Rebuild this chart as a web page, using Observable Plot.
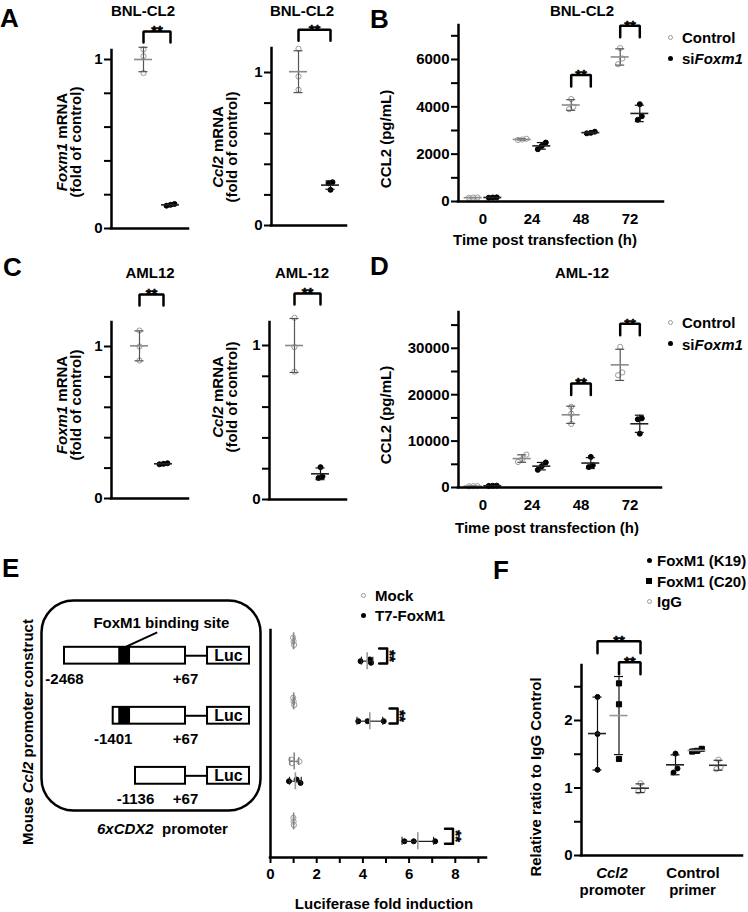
<!DOCTYPE html>
<html><head><meta charset="utf-8">
<script src="https://cdn.jsdelivr.net/npm/d3@7"></script>
<script src="https://cdn.jsdelivr.net/npm/@observablehq/plot@0.6"></script>
<style>
html,body{margin:0;padding:0;background:#fff;}
#fig{position:relative;width:748px;height:912px;overflow:hidden;font-family:"Liberation Sans",Arial,Helvetica,sans-serif;font-weight:bold;color:#000;}
#fig svg{position:absolute;left:0;top:0;}
.lbl{position:absolute;white-space:nowrap;}
.mk{position:absolute;box-sizing:border-box;}
</style></head><body><div id="fig"></div>
<script>
// ================= DATA =================
// A: BNL-CL2 qPCR, fold of control (three replicates each)
const bnlFoxm1Control = [1.06, 1.02, 0.92];
const bnlFoxm1Si = [0.145, 0.14, 0.135];
const bnlCcl2Control = [1.155, 0.974, 0.887];
const bnlCcl2Si = [0.283, 0.276, 0.233];
// C: AML12 qPCR
const amlFoxm1Control = [1.105, 1.0, 0.908];
const amlFoxm1Si = [0.232, 0.228, 0.225];
const amlCcl2Control = [1.18, 0.99, 0.83];
const amlCcl2Si = [0.21, 0.15, 0.14];
const qTicks = [0, 0.2, 0.4, 0.6, 0.8, 1];
const qTickLabels = [0, 1];
const qSigTops = [1.166, 1.279, 1.342, 1.338]; // ** bracket heights: A left, A right, C left, C right

// B / D: secreted CCL2 (pg/mL) by time post transfection
const timepoints = [0, 24, 48, 72];
const bnlElisaControl = [[160, 170, 165], [2650, 2620, 2600], [4330, 4000, 3900], [6480, 6040, 5800]];
const bnlElisaSi = [[170, 160, 175], [2490, 2350, 2210], [2950, 2900, 2880], [4110, 3600, 3450]];
const amlElisaControl = [[300, 250, 280], [7100, 6100, 5500], [17400, 15900, 13700], [30300, 24800, 24200]];
const amlElisaSi = [[400, 350, 380], [5400, 4600, 3800], [6600, 4800, 4400], [14900, 14700, 11600]];
const bnlTicks = [0, 1000, 2000, 3000, 4000, 5000, 6000, 7000];
const bnlTickLabels = [0, 2000, 4000, 6000];
const amlTicks = [0, 5000, 10000, 15000, 20000, 25000, 30000, 35000];
const amlTickLabels = [0, 10000, 20000, 30000];
const bnlSig = [{t: 2, top: 5340}, {t: 3, top: 7423}];
const amlSig = [{t: 2, top: 22400}, {t: 3, top: 35300}];

// E: luciferase fold induction per promoter construct
const constructs = ["-2468", "-1401", "-1136", "6xCDX2"];
const constructStart = [-2468, -1401, -1136];
const constructEnd = 67;
const bindingSite = [-1335, -1195];
const lucMock = [[1.0, 1.02, 0.98], [1.0, 0.98, 1.03], [0.9, 0.93, 1.25], [1.0, 0.99, 1.01]];
const lucT7 = [[3.9, 4.3, 4.35], [3.8, 4.2, 4.9], [0.8, 1.13, 1.3], [5.8, 6.2, 7.13]];
const lucTicks = [0, 1, 2, 3, 4, 5, 6, 7, 8, 9];
const lucTickLabels = [0, 2, 4, 6, 8];
const lucSig = [{row: 0, x: 5.05}, {row: 1, x: 5.5}, {row: 3, x: 7.9}];

// F: ChIP, relative ratio to IgG control
const chipTargets = ["Ccl2 promoter", "Control primer"];
const chipAntibodies = ["FoxM1 (K19)", "FoxM1 (C20)", "IgG"];
const chipK19 = [[2.35, 1.8, 1.27], [1.51, 1.29, 1.23]];
const chipC20 = [[2.55, 2.24, 1.43], [1.58, 1.55, 1.54]];
const chipIgG = [[1.07, 0.97, 0.95], [1.42, 1.31, 1.28]];
const chipTicks = [0, 0.5, 1, 1.5, 2, 2.5];
const chipTickLabels = [0, 1, 2];
const chipSig = [{a: [0, 0], b: [0, 2], top: 3.175}, {a: [0, 1], b: [0, 2], top: 2.864}];

// ================= STYLE / HELPERS =================
const W = 748, H = 912;
const FONT = '"Liberation Sans", Arial, Helvetica, sans-serif';
const fig = document.getElementById("fig");
const T = {fontSize: 15, fontWeight: "bold", fontFamily: FONT, fill: "#000"};
const STAR = {...T, stroke: "#000", strokeWidth: 0.5};
const AX = {stroke: "black", strokeWidth: 2.5, strokeLinecap: "square"};
const OPEN = {symbol: "circle", r: 2.6, fill: "white", stroke: "#9a9a9a", err: "#555", mean: "#8a8a8a"};
const FILLED = {symbol: "circle", r: 2.5, fill: "black", stroke: "black", err: "#111", mean: "#222"};
const SQUARE = {symbol: "square", r: 2.9, fill: "black", stroke: "black", err: "#111", mean: "#999"};
const IGG = {symbol: "circle", r: 2.6, fill: "white", stroke: "#9a9a9a", err: "#333", mean: "#333"};
const T7S = {symbol: "circle", r: 2.5, fill: "black", stroke: "black", err: "#222", mean: "#999"};
const MOCKS = {symbol: "circle", r: 2.6, fill: "white", stroke: "#9a9a9a", err: "#777", mean: "#888"};

function addPlot(frame, x, y, marks) {
  const svg = Plot.plot({
    width: W, height: H,
    marginLeft: frame.left, marginRight: W - frame.right,
    marginTop: frame.top, marginBottom: H - frame.bottom,
    x: Object.assign({type: "linear", axis: null}, x),
    y: Object.assign({type: "linear", axis: null}, y),
    style: {background: "transparent", overflow: "visible", fontFamily: FONT},
    marks
  });
  fig.appendChild(svg);
}

// cluster points closer than `thr` px and spread them side by side with `step` px
function spread(pos, thr, step) {
  const idx = d3.range(pos.length).sort((a, b) => pos[a] - pos[b]);
  const off = new Array(pos.length).fill(0);
  let cl = [idx[0]];
  const flush = () => { const n = cl.length; cl.forEach((k, j) => off[k] = (j - (n - 1) / 2) * step); };
  for (let j = 1; j < idx.length; j++) {
    if (pos[idx[j]] - pos[idx[j - 1]] < thr) cl.push(idx[j]); else { flush(); cl = [idx[j]]; }
  }
  flush();
  return off;
}

// vertical scatter with mean ± SD
function vScatter(groups, ux, uy) {
  const marks = [];
  for (const g of groups) {
    const st = g.style;
    const m = d3.mean(g.values), sd = d3.deviation(g.values);
    const off = spread(g.values.map(v => v / uy), 2 * st.r + 0.6, 2 * st.r - 1);
    const pts = g.values.map((v, i) => ({x: g.x + off[i] * ux, y: v}));
    const s = [{x: g.x, m, lo: m - sd, hi: m + sd}];
    marks.push(Plot.dot(pts, {x: "x", y: "y", r: st.r, symbol: st.symbol, fill: st.fill, stroke: st.stroke, strokeWidth: 1}));
    marks.push(Plot.ruleX(s, {x: "x", y1: "lo", y2: "hi", stroke: st.err, strokeWidth: 1.2}));
    for (const k of ["lo", "hi"]) marks.push(Plot.ruleY(s, {y: k, x1: d => d.x - 4.5 * ux, x2: d => d.x + 4.5 * ux, stroke: st.err, strokeWidth: 1.2}));
    marks.push(Plot.ruleY(s, {y: "m", x1: d => d.x - 9 * ux, x2: d => d.x + 9 * ux, stroke: st.mean, strokeWidth: 1.6}));
  }
  return marks;
}

// horizontal scatter (panel E)
function hScatter(rows, ux, uy) {
  const marks = [];
  for (const g of rows) {
    const st = g.style;
    const m = d3.mean(g.values), sd = d3.deviation(g.values);
    const off = spread(g.values.map(v => v / ux), 2 * st.r + 0.6, 2 * st.r - 1.6);
    const pts = g.values.map((v, i) => ({x: v, y: g.y + off[i] * uy}));
    const s = [{y: g.y, m, lo: m - sd, hi: m + sd}];
    marks.push(Plot.dot(pts, {x: "x", y: "y", r: st.r, symbol: st.symbol, fill: st.fill, stroke: st.stroke, strokeWidth: 1}));
    marks.push(Plot.ruleY(s, {y: "y", x1: "lo", x2: "hi", stroke: st.err, strokeWidth: 1.2}));
    for (const k of ["lo", "hi"]) marks.push(Plot.ruleX(s, {x: k, y1: d => d.y - 4 * uy, y2: d => d.y + 4 * uy, stroke: st.err, strokeWidth: 1.2}));
    marks.push(Plot.ruleX(s, {x: "m", y1: d => d.y - 8.5 * uy, y2: d => d.y + 8.5 * uy, stroke: st.mean, strokeWidth: 1.6}));
  }
  return marks;
}

function yAxis(xMin, ux, ticks, labels) {
  return [
    Plot.ruleY(ticks, {y: d => d, x1: xMin - 7 * ux, x2: xMin, stroke: "black", strokeWidth: 2}),
    Plot.text(labels, {x: xMin, y: d => d, text: d => String(d), textAnchor: "end", dx: -9, ...T})
  ];
}

function brackets(br, arm) {
  const path = br.flatMap((b, i) => [
    {id: i, x: b.a, y: b.top - arm}, {id: i, x: b.a, y: b.top},
    {id: i, x: b.b, y: b.top}, {id: i, x: b.b, y: b.top - arm}]);
  return [
    Plot.line(path, {x: "x", y: "y", z: "id", stroke: "black", strokeWidth: 2.5, strokeLinejoin: "miter"}),
    Plot.text(br, {x: b => (b.a + b.b) / 2, y: "top", text: () => "**", ...STAR})
  ];
}

function lbl(html, x, y, o = {}) {
  const d = document.createElement("div");
  d.className = "lbl";
  d.innerHTML = html;
  const size = o.size || 15;
  d.style.fontSize = size + "px";
  d.style.lineHeight = (o.lh || size) + "px";
  d.style.left = x + "px";
  d.style.top = y + "px";
  if (o.center) d.style.textAlign = "center";
  const tx = o.anchor === "start" ? "0" : "-50%";
  d.style.transform = `translate(${tx},-50%)` + (o.rotate ? ` rotate(${o.rotate}deg)` : "");
  fig.appendChild(d);
}
function marker(kind, x, y) {
  const d = document.createElement("div");
  d.className = "mk";
  const s = kind === "square" ? 5.5 : 5;
  d.style.width = s + "px"; d.style.height = s + "px";
  d.style.left = (x - s / 2) + "px"; d.style.top = (y - s / 2) + "px";
  if (kind === "open") { d.style.border = "1px solid #9a9a9a"; d.style.borderRadius = "50%"; }
  else if (kind === "dot") { d.style.background = "#000"; d.style.borderRadius = "50%"; }
  else d.style.background = "#000";
  fig.appendChild(d);
}

// ================= PANELS A & C =================
function qpcrPanel(p, ctrl, si, sigTop) {
  const step = p.siPx - p.ctrlPx;
  const ux = 1 / step, uy = 1 / p.pxPer;
  const xDomain = [(p.x0 - p.ctrlPx) / step, (p.x1 - p.ctrlPx) / step];
  const yMax = (p.yBottom - p.yTop) / p.pxPer;
  const marks = [
    ...yAxis(xDomain[0], ux, qTicks, qTickLabels),
    ...vScatter([{x: 0, values: ctrl, style: OPEN}, {x: 1, values: si, style: FILLED}], ux, uy),
    ...brackets([{a: 0, b: 1, top: sigTop}], 11 * uy),
    Plot.ruleX([xDomain[0]], AX), Plot.ruleY([0], AX)
  ];
  addPlot({left: p.x0, right: p.x1, top: p.yTop, bottom: p.yBottom}, {domain: xDomain}, {domain: [0, yMax]}, marks);
}
qpcrPanel({x0: 111, x1: 188, ctrlPx: 143, siPx: 170, yBottom: 228, yTop: 50, pxPer: 169}, bnlFoxm1Control, bnlFoxm1Si, qSigTops[0]);
qpcrPanel({x0: 271, x1: 346, ctrlPx: 298, siPx: 330, yBottom: 225, yTop: 48, pxPer: 153}, bnlCcl2Control, bnlCcl2Si, qSigTops[1]);
qpcrPanel({x0: 111, x1: 188, ctrlPx: 139, siPx: 163, yBottom: 498, yTop: 322, pxPer: 152}, amlFoxm1Control, amlFoxm1Si, qSigTops[2]);
qpcrPanel({x0: 269, x1: 346, ctrlPx: 294, siPx: 320, yBottom: 499, yTop: 322, pxPer: 154}, amlCcl2Control, amlCcl2Si, qSigTops[3]);

// ================= PANELS B & D =================
function elisaPanel(p, ctrl, si, ticks, labels, sig) {
  const step = 49, c0 = 482.5, off = 0.2;
  const ux = 1 / step, uy = 1 / p.pxPer;
  const xDomain = [(p.x0 - c0) / step, (p.x1 - c0) / step];
  const yMax = (p.yBottom - p.yTop) / p.pxPer;
  const groups = [];
  timepoints.forEach((t, i) => {
    groups.push({x: i - off, values: ctrl[i], style: OPEN});
    groups.push({x: i + off, values: si[i], style: FILLED});
  });
  const marks = [
    ...yAxis(xDomain[0], ux, ticks, labels),
    Plot.text(timepoints, {x: (d, i) => i, y: 0, dy: 12, lineAnchor: "top", text: d => String(d), ...T}),
    ...vScatter(groups, ux, uy),
    ...brackets(sig.map(s => ({a: s.t - off, b: s.t + off, top: s.top})), 11.5 * uy),
    Plot.ruleX([xDomain[0]], AX), Plot.ruleY([0], AX)
  ];
  addPlot({left: p.x0, right: p.x1, top: p.yTop, bottom: p.yBottom}, {domain: xDomain}, {domain: [0, yMax]}, marks);
}
elisaPanel({x0: 458, x1: 663, yBottom: 201, yTop: 25, pxPer: 0.02367}, bnlElisaControl, bnlElisaSi, bnlTicks, bnlTickLabels, bnlSig);
elisaPanel({x0: 458, x1: 661, yBottom: 487, yTop: 312, pxPer: 0.00464}, amlElisaControl, amlElisaSi, amlTicks, amlTickLabels, amlSig);

// ================= PANEL E (chart) =================
const E_Y = {domain: [-0.18, 3.6], range: [630, 857]};
{
  const x0 = 270, x1 = 486, yT = 630, yB = 857, pxX = 23.1, pxY = 227 / 3.78;
  const ux = 1 / pxX, uy = 1 / pxY;
  const xDomain = [0, (x1 - x0) / pxX];
  const rows = [];
  constructs.forEach((c, r) => {
    rows.push({y: r, values: lucMock[r], style: MOCKS});
    rows.push({y: r + 0.33, values: lucT7[r], style: T7S});
  });
  const ePath = lucSig.flatMap((b, i) => [
    {id: i, x: b.x - 8 * ux, y: b.row + 0.12}, {id: i, x: b.x, y: b.row + 0.12},
    {id: i, x: b.x, y: b.row + 0.37}, {id: i, x: b.x - 8 * ux, y: b.row + 0.37}]);
  const marks = [
    Plot.ruleX(lucTicks, {x: d => d, y1: 3.6, y2: 3.6 + 6 * uy, stroke: "black", strokeWidth: 2}),
    Plot.text(lucTickLabels, {x: d => d, y: 3.6, dy: 11, lineAnchor: "top", text: d => String(d), ...T}),
    ...hScatter(rows, ux, uy),
    Plot.line(ePath, {x: "x", y: "y", z: "id", stroke: "black", strokeWidth: 2.5}),
    Plot.text(lucSig, {x: "x", y: d => d.row + 0.245, rotate: 90, dx: 2.5, text: () => "**", ...STAR}),
    Plot.ruleX([0], AX), Plot.ruleY([3.6], AX)
  ];
  addPlot({left: x0, right: x1, top: yT, bottom: yB}, {domain: xDomain}, E_Y, marks);
}

// ================= PANEL E (promoter construct schematic) =================
{
  const rowsS = constructStart.map((s, r) => ({row: r, start: s}));
  const yc = r => r + 0.24, bh = 0.14;
  const lucStart = constructEnd + 530, lucEnd = lucStart + 1010;
  const siteMid = (bindingSite[0] + bindingSite[1]) / 2;
  const marks = [
    Plot.frame({rx: 32, ry: 32, stroke: "black", strokeWidth: 2.5}),
    Plot.ruleY(rowsS, {y: d => yc(d.row), x1: constructEnd, x2: lucStart, stroke: "black", strokeWidth: 2}),
    Plot.rect(rowsS, {x1: "start", x2: constructEnd, y1: d => yc(d.row) - bh, y2: d => yc(d.row) + bh, fill: "white", stroke: "black", strokeWidth: 2}),
    Plot.rect(rowsS.filter(d => d.start <= bindingSite[0]), {x1: bindingSite[0], x2: bindingSite[1], y1: d => yc(d.row) - bh, y2: d => yc(d.row) + bh, fill: "black"}),
    Plot.rect(rowsS, {x1: lucStart, x2: lucEnd, y1: d => yc(d.row) - bh, y2: d => yc(d.row) + bh, fill: "white", stroke: "black", strokeWidth: 2}),
    Plot.text(rowsS, {x: (lucStart + lucEnd) / 2, y: d => yc(d.row), text: () => "Luc", ...T, fontSize: 16}),
    Plot.text(rowsS, {x: "start", y: d => d.row + 0.63, text: d => String(d.start), ...T}),
    Plot.text(rowsS, {x: constructEnd, y: d => d.row + 0.63, text: () => "+" + constructEnd, ...T}),
    Plot.link([0], {x1: siteMid, y1: yc(0) - bh, x2: -614, y2: -0.15, stroke: "black", strokeWidth: 2}),
    Plot.text([0], {x: -515, y: -0.30, text: () => "FoxM1 binding site", ...T})
  ];
  // schematic (not-to-scale) bp axis: piecewise linear
  addPlot({left: 41, right: 260, top: 600, bottom: 810},
    {domain: [-2468, -1401, -1136, constructEnd], range: [64, 112.7, 135, 185]}, E_Y, marks);
}

// ================= PANEL F =================
{
  const x0 = 581, x1 = 742, yB = 855, yT = 665, pxX = 21.5, pxY = 67.5, origin = 597, gap = 78 / 21.5;
  const ux = 1 / pxX, uy = 1 / pxY;
  const xOf = (g, s) => g * gap + s;
  const xDomain = [(x0 - origin) / pxX, (x1 - origin) / pxX];
  const styles = [FILLED, SQUARE, IGG];
  const sets = [chipK19, chipC20, chipIgG];
  const groups = [];
  chipTargets.forEach((t, g) => chipAntibodies.forEach((a, s) => groups.push({x: xOf(g, s), values: sets[s][g], style: styles[s]})));
  const marks = [
    ...yAxis(xDomain[0], ux, chipTicks, chipTickLabels),
    ...vScatter(groups, ux, uy),
    ...brackets(chipSig.map(b => ({a: xOf(...b.a), b: xOf(...b.b), top: b.top})), 12 * uy),
    Plot.ruleX([xDomain[0]], AX), Plot.ruleY([0], AX)
  ];
  addPlot({left: x0, right: x1, top: yT, bottom: yB}, {domain: xDomain}, {domain: [0, (yB - yT) / pxY]}, marks);
}

// ================= TEXT: letters, titles, axis labels, legends =================
[["A", 0, 18], ["B", 370, 19], ["C", 3, 267], ["D", 370, 266], ["E", 2, 568], ["F", 493, 570]]
  .forEach(([t, x, y]) => lbl(t, x, y, {size: 26, anchor: "start"}));
lbl("BNL-CL2", 143, 10); lbl("BNL-CL2", 302, 10); lbl("BNL-CL2", 582, 10);
lbl("AML12", 150, 272); lbl("AML-12", 302, 272); lbl("AML-12", 582, 272);

lbl("<i>Foxm1</i> mRNA<br>(fold of control)", 68.5, 142, {rotate: -90, center: true, lh: 14});
lbl("<i>Ccl2</i> mRNA<br>(fold of control)", 225, 147, {rotate: -90, center: true, lh: 14});
lbl("<i>Foxm1</i> mRNA<br>(fold of control)", 68.5, 405, {rotate: -90, center: true, lh: 14});
lbl("<i>Ccl2</i> mRNA<br>(fold of control)", 225, 397, {rotate: -90, center: true, lh: 14});
lbl("CCL2 (pg/mL)", 385, 139, {rotate: -90});
lbl("CCL2 (pg/mL)", 385, 415, {rotate: -90});
lbl("Mouse <i>Ccl2</i> promoter construct", 27, 732, {rotate: -90});
lbl("Relative ratio to IgG Control", 535, 777, {rotate: -90});

lbl("Time post transfection (h)", 545, 239);
lbl("Time post transfection (h)", 547, 527);
lbl("Luciferase fold induction", 384, 903);
lbl("<i>6xCDX2</i>&nbsp;&nbsp;promoter", 97, 828, {anchor: "start"});
lbl("<i>Ccl2</i>", 612, 872); lbl("promoter", 612.5, 888.5);
lbl("Control", 693, 872); lbl("primer", 692.5, 888.5);

// legends
marker("open", 670, 37); lbl("Control", 682, 37, {anchor: "start"});
marker("dot", 670, 58); lbl("si<i>Foxm1</i>", 682, 58, {anchor: "start"});
marker("open", 670, 322); lbl("Control", 682, 322, {anchor: "start"});
marker("dot", 670, 343.5); lbl("si<i>Foxm1</i>", 682, 343.5, {anchor: "start"});
marker("open", 363, 595); lbl("Mock", 375, 595, {anchor: "start"});
marker("dot", 363, 615); lbl("T7-FoxM1", 375, 615, {anchor: "start"});
marker("dot", 649, 560); lbl("FoxM1 (K19)", 657, 560, {anchor: "start"});
marker("square", 649, 581); lbl("FoxM1 (C20)", 657, 581, {anchor: "start"});
marker("open", 649, 601); lbl("IgG", 657, 601, {anchor: "start"});
</script></body></html>
